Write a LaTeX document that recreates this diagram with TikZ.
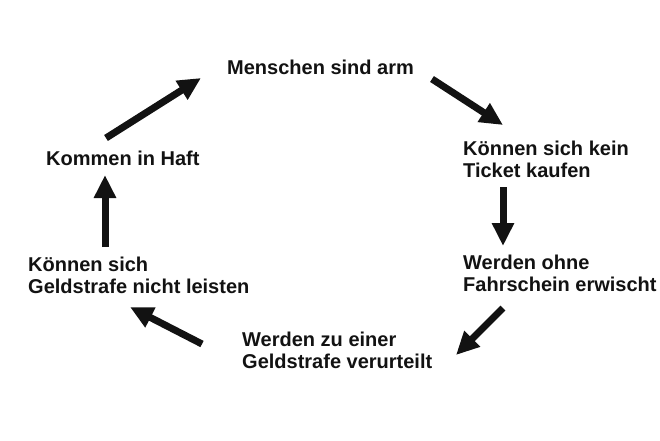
\documentclass[tikz,border=0pt]{standalone}
\usepackage{fontspec}
\setmainfont{Liberation Sans}
\usetikzlibrary{arrows.meta}

\tikzset{
	label/.style={font=\bfseries\fontsize{20}{22.5}\selectfont, text=black!93, inner sep=0pt, anchor=south west, align=left},
	arr/.style={line width=7pt, draw=black!93, -{Triangle[length=23pt,width=21pt]}}
}

\begin{document}
\begin{tikzpicture}[x=1pt,y=-1pt]
	\useasboundingbox (0,0) rectangle (660,440);

	\node[label] (menschen) at (227,75) {Menschen sind arm};
	\node[label] (kein) at (463,178) {Können sich kein\\Ticket kaufen};
	\node[label] (erwischt) at (463,292) {Werden ohne\\Fahrschein erwischt};
	\node[label] (verurteilt) at (242,369) {Werden zu einer\\Geldstrafe verurteilt};
	\node[label] (leisten) at (28,294) {Können sich\\Geldstrafe nicht leisten};
	\node[label] (haft) at (46,166) {Kommen in Haft};

	\draw[arr] ([shift={(205,4)}]menschen.south west) -- ([shift={(40,-53)}]kein.south west);
	\draw[arr] ([shift={(40,9)}]kein.south west) -- ([shift={(40,-46)}]erwischt.south west);
	\draw[arr] ([shift={(40,16)}]erwischt.south west) -- ([shift={(214,-14)}]verurteilt.south west);
	\draw[arr] ([shift={(-40,-25)}]verurteilt.south west) -- ([shift={(102,13)}]leisten.south west);
	\draw[arr] ([shift={(77,-47)}]leisten.south west) -- ([shift={(59,9)}]haft.south west);
	\draw[arr] ([shift={(60,-28)}]haft.south west) -- ([shift={(-26,3)}]menschen.south west);
\end{tikzpicture}
\end{document}
